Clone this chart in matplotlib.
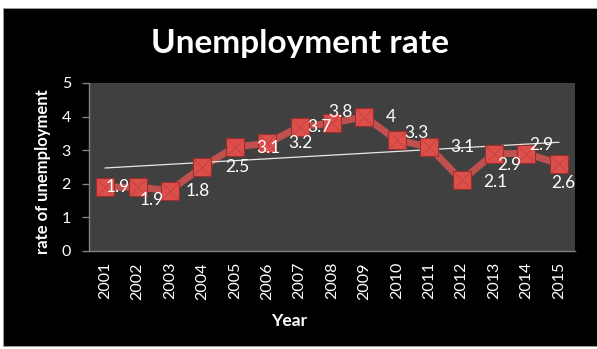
import numpy as np
import matplotlib.pyplot as plt
from matplotlib.patches import Rectangle

# datos
years = ['2001', '2002', '2003', '2004', '2005', '2006', '2007', '2008',
         '2009', '2010', '2011', '2012', '2013', '2014', '2015']
rate = [1.9, 1.9, 1.8, 2.5, 3.1, 3.2, 3.7, 3.8, 4, 3.3, 3.1, 2.1, 2.9, 2.9, 2.6]
labels = ['1.9', '1.9', '1.8', '2.5', '3.1', '3.2', '3.7', '3.8',
          '4', '3.3', '3.1', '2.1', '2.9', '2.9', '2.6']

# desplazamiento de las etiquetas (puntos)
lab_off = [(9, 0), (10, -9), (20, 0), (25, 0), (24, -1), (24, 0), (14, 0), (6, 8),
           (19, 0), (14, 5), (24, 0), (24, -1), (11, -8), (11, 6), (3, -14)]

plt.rcParams['font.family'] = ['Lato', 'DejaVu Sans']

fig = plt.figure(figsize=(5.97, 3.49), dpi=100, facecolor='white')
fig.patches.append(Rectangle((3 / 597, 3.5 / 349), 594 / 597, 337.5 / 349,
                             transform=fig.transFigure, facecolor='black',
                             edgecolor='#a0a0a0', linewidth=0.6, zorder=-10))

ax = fig.add_axes([89 / 597, 98 / 349, 486 / 597, 168 / 349])
ax.set_zorder(1)
ax.set_facecolor('#404040')

x = np.arange(len(years))
ax.plot(x, rate, color='#c0504d', linewidth=5, zorder=2)
ax.plot(x, rate, linestyle='none', marker='s', markersize=13.5,
        markerfacecolor='#dc4f4b', markeredgecolor='#9c2f2c', markeredgewidth=0.8, zorder=3)
ax.plot(x, rate, linestyle='none', marker='x', markersize=12,
        markeredgecolor='#bd3f3b', markeredgewidth=0.5, zorder=4)

# linea de tendencia
p = np.polyfit(x, rate, 1)
ax.plot(x, np.polyval(p, x), color='#e8e8e8', linewidth=0.9, zorder=2.5)

for i in range(len(years)):
    ax.annotate(labels[i], (x[i], rate[i]), xytext=lab_off[i], textcoords='offset points',
                ha='center', va='center', color='white', fontsize=12.5, zorder=5)

ax.set_xlim(-0.5, 14.5)
ax.set_ylim(0, 5)
ax.set_yticks([0, 1, 2, 3, 4, 5])
ax.set_xticks(x)
ax.set_xticklabels(years, rotation=90)
ax.tick_params(axis='y', colors='#808080', labelcolor='white', labelsize=11.5, length=5, width=1, pad=8)
ax.tick_params(axis='x', length=0, labelcolor='white', labelsize=11.5, pad=8)
for s in ['top', 'right']:
    ax.spines[s].set_visible(False)
for s in ['left', 'bottom']:
    ax.spines[s].set_color('#808080')
    ax.spines[s].set_linewidth(1)

fig.text(300 / 597, 1 - 43 / 349, 'Unemployment rate', ha='center', va='center',
         color='white', fontsize=24, fontweight='bold')
fig.text(43 / 597, 1 - 172 / 349, 'rate of unemployment', ha='center', va='center',
         rotation=90, color='white', fontsize=12, fontweight='bold')
fig.text(289 / 597, 1 - 321 / 349, 'Year', ha='center', va='center',
         color='white', fontsize=12.5, fontweight='bold')

plt.savefig('out.png', dpi=100, facecolor=fig.get_facecolor())
